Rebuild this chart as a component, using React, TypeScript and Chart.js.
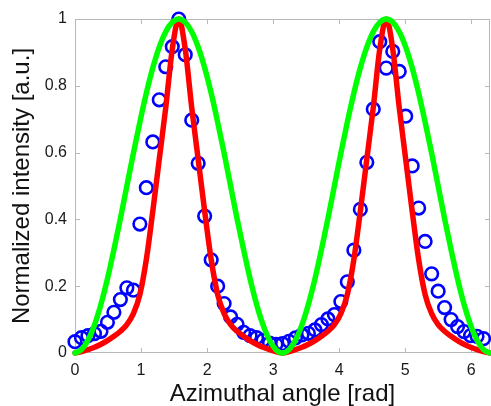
import React, { useEffect, useRef } from "react";
import { Chart, registerables } from "chart.js";

Chart.register(...registerables);

// Azimuthal angle samples [rad] (step pi/32)
const angles: number[] = [
  0, 0.098, 0.196, 0.295, 0.393, 0.491, 0.589, 0.687, 0.785, 0.884, 0.982, 1.08, 1.178, 1.276, 1.374, 1.473,
  1.571, 1.669, 1.767, 1.865, 1.963, 2.062, 2.16, 2.258, 2.356, 2.454, 2.553, 2.651, 2.749, 2.847, 2.945, 3.043,
  3.142, 3.24, 3.338, 3.436, 3.534, 3.633, 3.731, 3.829, 3.927, 4.025, 4.123, 4.222, 4.32, 4.418, 4.516, 4.614,
  4.712, 4.811, 4.909, 5.007, 5.105, 5.203, 5.301, 5.4, 5.498, 5.596, 5.694, 5.792, 5.89, 5.989, 6.087, 6.185,
  6.283,
];

// Green curve
const greenCurve: number[] = [
  0, 0.01, 0.038, 0.084, 0.146, 0.222, 0.309, 0.402, 0.5, 0.598, 0.691, 0.778, 0.854, 0.916, 0.962, 0.99,
  1, 0.99, 0.962, 0.916, 0.854, 0.778, 0.691, 0.598, 0.5, 0.402, 0.309, 0.222, 0.146, 0.084, 0.038, 0.01,
  0, 0.01, 0.038, 0.084, 0.146, 0.222, 0.309, 0.402, 0.5, 0.598, 0.691, 0.778, 0.854, 0.916, 0.962, 0.99,
  1, 0.99, 0.962, 0.916, 0.854, 0.778, 0.691, 0.598, 0.5, 0.402, 0.309, 0.222, 0.146, 0.084, 0.038, 0.01,
  0,
];

// Red curve
const redCurve: number[] = [
  0, 0.004, 0.01, 0.017, 0.026, 0.037, 0.05, 0.065, 0.085, 0.118, 0.175, 0.28, 0.425, 0.58, 0.735, 0.91,
  1, 0.91, 0.735, 0.58, 0.425, 0.28, 0.175, 0.118, 0.085, 0.065, 0.05, 0.037, 0.026, 0.017, 0.01, 0.004,
  0, 0.004, 0.01, 0.017, 0.026, 0.037, 0.05, 0.065, 0.085, 0.118, 0.175, 0.28, 0.425, 0.58, 0.735, 0.91,
  1, 0.91, 0.735, 0.58, 0.425, 0.28, 0.175, 0.118, 0.085, 0.065, 0.05, 0.037, 0.026, 0.017, 0.01, 0.004,
  0,
];

// Measured intensity (blue circles), one per angle sample (first 64)
const measured: number[] = [
  0.034, 0.046, 0.052, 0.058, 0.065, 0.092, 0.122, 0.16, 0.195, 0.188, 0.386, 0.495, 0.632, 0.758, 0.857, 0.917,
  1.0, 0.893, 0.697, 0.568, 0.41, 0.279, 0.2, 0.148, 0.108, 0.086, 0.062, 0.052, 0.046, 0.038, 0.03, 0.026,
  0.028, 0.035, 0.045, 0.054, 0.059, 0.069, 0.085, 0.102, 0.115, 0.154, 0.213, 0.308, 0.43, 0.571, 0.73, 0.932,
  0.853, 0.903, 0.843, 0.709, 0.56, 0.434, 0.334, 0.237, 0.185, 0.136, 0.1, 0.079, 0.064, 0.052, 0.05, 0.043,
];

const xTickValues: number[] = [0, 1, 2, 3, 4, 5, 6];
const yTickValues: number[] = [0, 0.2, 0.4, 0.6, 0.8, 1];
const xTitle = "Azimuthal angle [rad]";
const yTitle = "Normalized intensity [a.u.]";

const FONT = "'Liberation Sans', Arial, Helvetica, sans-serif";

const framePlugin = {
  id: "matlabFrame",
  beforeDatasetsDraw(chart: any) {
    const { ctx, chartArea: a, scales } = chart;
    const xs = scales.x;
    const ys = scales.y;
    ctx.save();
    ctx.strokeStyle = "#b8b8b8";
    ctx.lineWidth = 1;
    ctx.strokeRect(a.left + 0.5, a.top + 0.5, a.right - a.left - 1, a.bottom - a.top - 1);
    const tl = 5;
    ctx.beginPath();
    xTickValues.forEach((v) => {
      const px = Math.round(xs.getPixelForValue(v)) + 0.5;
      ctx.moveTo(px, a.bottom);
      ctx.lineTo(px, a.bottom - tl);
      ctx.moveTo(px, a.top);
      ctx.lineTo(px, a.top + tl);
    });
    yTickValues.forEach((v) => {
      const py = Math.round(ys.getPixelForValue(v)) + 0.5;
      ctx.moveTo(a.left, py);
      ctx.lineTo(a.left + tl, py);
      ctx.moveTo(a.right, py);
      ctx.lineTo(a.right - tl, py);
    });
    ctx.stroke();
    ctx.restore();
  },
};

export default function App() {
  const canvasRef = useRef<HTMLCanvasElement | null>(null);

  useEffect(() => {
    const canvas = canvasRef.current;
    if (!canvas) return;
    const toPts = (ys: number[]) => ys.map((y, i) => ({ x: angles[i], y }));
    const chart = new Chart(canvas, {
      type: "scatter",
      data: {
        datasets: [
          {
            label: "green",
            data: toPts(greenCurve),
            showLine: true,
            borderColor: "#00ff00",
            borderWidth: 5.5,
            pointRadius: 0,
            cubicInterpolationMode: "monotone",
            borderJoinStyle: "round",
            borderCapStyle: "round",
            clip: 4,
          } as any,
          {
            label: "red",
            data: toPts(redCurve),
            showLine: true,
            borderColor: "#ff0000",
            borderWidth: 5.5,
            pointRadius: 0,
            cubicInterpolationMode: "monotone",
            borderJoinStyle: "round",
            borderCapStyle: "round",
            clip: 4,
          } as any,
          {
            label: "measured",
            data: toPts(measured),
            showLine: false,
            pointStyle: "circle",
            pointRadius: 6.3,
            pointBorderWidth: 2.6,
            pointBorderColor: "#0000ff",
            pointBackgroundColor: "rgba(0,0,0,0)",
            clip: false,
          } as any,
        ],
      },
      options: {
        animation: false,
        responsive: false,
        maintainAspectRatio: false,
        layout: { autoPadding: false, padding: { left: 0, right: 1, top: 19, bottom: 0 } },
        plugins: { legend: { display: false }, tooltip: { enabled: false } },
        scales: {
          x: {
            type: "linear",
            min: 0,
            max: 6.2832,
            afterFit: (s: any) => {
              s.height = 53;
              s.paddingLeft = 0;
              s.paddingRight = 0;
            },
            afterBuildTicks: (s: any) => {
              s.ticks = xTickValues.map((v) => ({ value: v }));
            },
            ticks: {
              stepSize: 1,
              includeBounds: false,
              autoSkip: false,
              maxRotation: 0,
              padding: 8,
              color: "#1a1a1a",
              font: { family: FONT, size: 16 },
              callback: (v: any) => String(Math.round(Number(v))),
            },
            grid: { display: false, drawTicks: false },
            border: { display: false },
            title: {
              display: true,
              text: xTitle,
              color: "#111",
              font: { family: FONT, size: 24, lineHeight: 1 },
              padding: { top: 0, bottom: 0 },
            },
          },
          y: {
            type: "linear",
            min: 0,
            max: 1,
            afterFit: (s: any) => {
              s.width = 75;
              s.paddingTop = 0;
              s.paddingBottom = 0;
            },
            afterBuildTicks: (s: any) => {
              s.ticks = yTickValues.map((v) => ({ value: v }));
            },
            ticks: {
              stepSize: 0.2,
              autoSkip: false,
              padding: 8,
              color: "#1a1a1a",
              font: { family: FONT, size: 16 },
              callback: (v: any) => String(Number(Number(v).toFixed(1))),
            },
            grid: { display: false, drawTicks: false },
            border: { display: false },
            title: {
              display: true,
              text: yTitle,
              color: "#111",
              font: { family: FONT, size: 24, lineHeight: 1 },
              padding: { top: 10, bottom: 0 },
            },
          },
        },
      },
      plugins: [framePlugin],
    });
    return () => chart.destroy();
  }, []);

  return (
    <div style={{ position: "fixed", left: 0, top: 0, width: 491, height: 406, background: "#fff" }}>
      <canvas ref={canvasRef} width={491} height={406} style={{ display: "block", width: 491, height: 406 }} />
    </div>
  );
}
